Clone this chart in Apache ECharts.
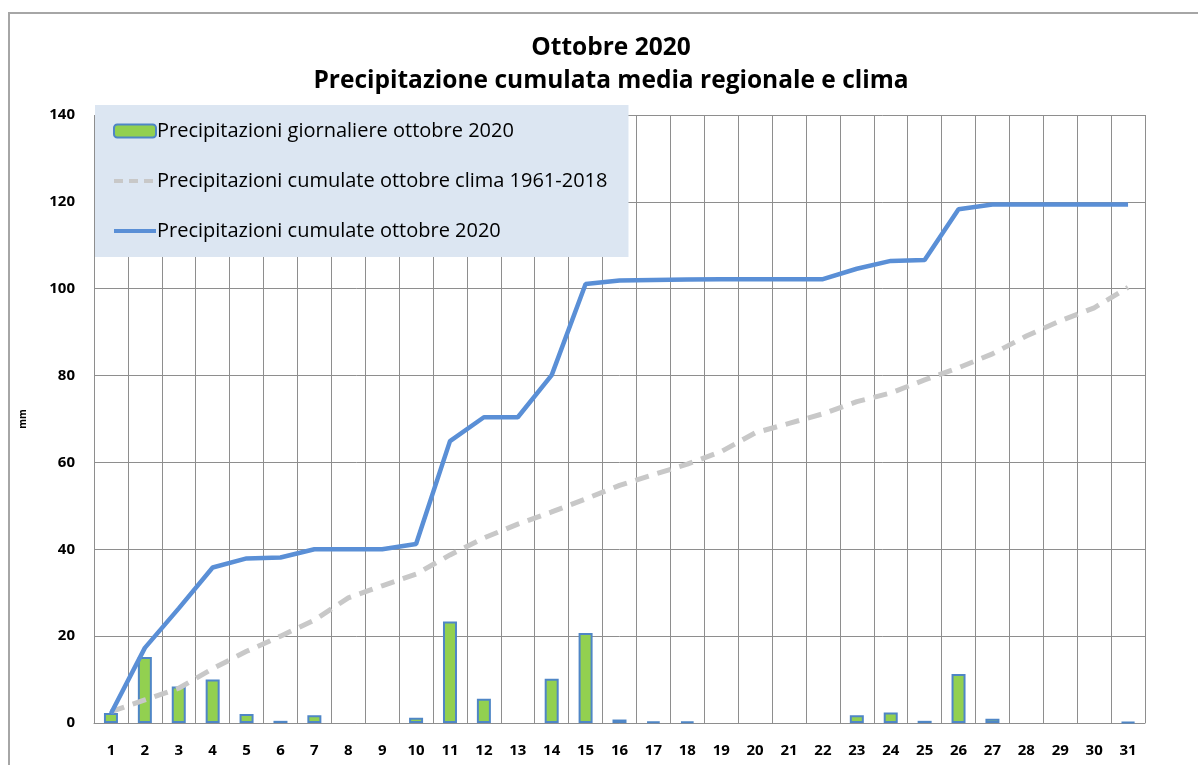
<!DOCTYPE html>
<html>
<head>
<meta charset="utf-8">
<script src="https://cdn.jsdelivr.net/npm/echarts@6/dist/echarts.min.js"></script>
<style>
  html, body { margin: 0; padding: 0; background: #fff; }
  #grafico { width: 1198px; height: 765px; }
</style>
</head>
<body>
<div id="grafico"></div>
<script>
// Dati (mm)
const giorni = ['1','2','3','4','5','6','7','8','9','10','11','12','13','14','15','16',
  '17','18','19','20','21','22','23','24','25','26','27','28','29','30','31'];
const pioggiaGiornaliera = [2.3, 15.2, 8.4, 10.0, 2.1, 0.5, 1.8, 0, 0, 1.2, 23.4, 5.6, 0, 10.2, 20.7, 0.8,
  0.3, 0.3, 0, 0, 0, 0, 1.8, 2.4, 0.5, 11.3, 1.0, 0, 0, 0, 0.2];
const cumulataClima = [2.6, 5.3, 8.0, 12.5, 16.5, 20.0, 23.7, 28.8, 31.6, 34.3, 38.7, 42.6, 45.8, 48.6, 51.6, 54.7,
  57.2, 59.6, 62.5, 66.8, 69.0, 71.2, 74.0, 76.0, 79.0, 81.8, 85.0, 89.1, 92.6, 95.6, 100.3];
const cumulata2020 = [2.2, 17.3, 26.4, 35.8, 37.9, 38.1, 40.0, 40.0, 40.0, 41.2, 64.9, 70.4, 70.4, 80.1, 101.1, 101.9,
  102.0, 102.1, 102.2, 102.2, 102.2, 102.2, 104.6, 106.4, 106.6, 118.3, 119.4, 119.4, 119.4, 119.4, 119.4];
const yTicks = [0, 20, 40, 60, 80, 100, 120, 140];

const FONT = '"Open Sans", Lato, sans-serif';
const GRIGIO_GRIGLIA = '#8e8e8e';
const BLU = '#5a8fd6';
const GRIGIO_CLIMA = '#c8c8c8';
const NOME_BARRE = 'Precipitazioni giornaliere ottobre 2020';
const NOME_CLIMA = 'Precipitazioni cumulate ottobre clima 1961-2018';
const NOME_2020 = 'Precipitazioni cumulate ottobre 2020';

const myChart = echarts.init(document.getElementById('grafico'), null, { renderer: 'canvas' });

// i giorni senza pioggia non hanno barra
const barre = pioggiaGiornaliera.map((v) => (v === 0 ? '-' : v));

const option = {
  backgroundColor: '#ffffff',
  animation: false,
  textStyle: { fontFamily: FONT },
  title: {
    text: 'Ottobre 2020\nPrecipitazione cumulata media regionale e clima',
    left: 606,
    top: 27,
    textAlign: 'center',
    textStyle: {
      fontFamily: FONT,
      fontSize: 24.5,
      fontWeight: 'bold',
      color: '#000',
      lineHeight: 33
    }
  },
  graphic: [
    {
      type: 'rect',
      shape: { x: 9, y: 13, width: 1300, height: 900 },
      style: { fill: 'none', stroke: '#a6a6a6', lineWidth: 2 },
      silent: true
    }
  ],
  legend: {
    orient: 'vertical',
    left: 95,
    top: 105,
    backgroundColor: '#dce6f2',
    padding: [15, 21, 15, 17],
    itemGap: 28,
    itemWidth: 42,
    itemHeight: 13,
    textStyle: { fontFamily: FONT, fontSize: 20, color: '#000', lineHeight: 22, padding: [0, 0, 0, -4] },
    data: [
      { name: NOME_BARRE },
      { name: NOME_CLIMA, itemStyle: { opacity: 0 }, lineStyle: { color: GRIGIO_CLIMA, width: 4, type: [9, 6] } },
      { name: NOME_2020, itemStyle: { opacity: 0 }, lineStyle: { color: BLU, width: 4 } }
    ]
  },
  grid: { left: 94, right: 53, top: 115, bottom: 42, containLabel: false },
  xAxis: {
    type: 'category',
    data: giorni,
    boundaryGap: true,
    axisLine: { show: true, lineStyle: { color: GRIGIO_GRIGLIA, width: 1 } },
    axisTick: { show: false },
    axisLabel: { fontFamily: FONT, fontSize: 15, fontWeight: 'bold', color: '#000', margin: 20, interval: 0 },
    splitLine: { show: true, interval: 0, lineStyle: { color: GRIGIO_GRIGLIA, width: 1 } }
  },
  yAxis: {
    type: 'value',
    min: yTicks[0],
    max: yTicks[yTicks.length - 1],
    interval: 20,
    name: 'mm',
    nameLocation: 'middle',
    nameRotate: 90,
    nameGap: 66,
    nameTextStyle: { fontFamily: FONT, fontSize: 10, fontWeight: 'bold', color: '#000' },
    axisLine: { show: false },
    axisTick: { show: false },
    axisLabel: { fontFamily: FONT, fontSize: 15, fontWeight: 'bold', color: '#000', margin: 19 },
    splitLine: { show: true, lineStyle: { color: GRIGIO_GRIGLIA, width: 1 } }
  },
  series: [
    {
      name: NOME_BARRE,
      type: 'bar',
      data: barre,
      barWidth: 14,
      itemStyle: { color: '#92d050', borderColor: '#4f86c6', borderWidth: 2 },
      z: 2
    },
    {
      name: NOME_CLIMA,
      type: 'line',
      data: cumulataClima,
      symbol: 'none',
      showSymbol: false,
      lineStyle: { color: GRIGIO_CLIMA, width: 5, type: [14, 9] },
      itemStyle: { color: GRIGIO_CLIMA },
      z: 3
    },
    {
      name: NOME_2020,
      type: 'line',
      data: cumulata2020,
      symbol: 'none',
      showSymbol: false,
      lineStyle: { color: BLU, width: 4.5 },
      itemStyle: { color: BLU },
      z: 4
    }
  ]
};

myChart.setOption(option);
</script>
</body>
</html>
